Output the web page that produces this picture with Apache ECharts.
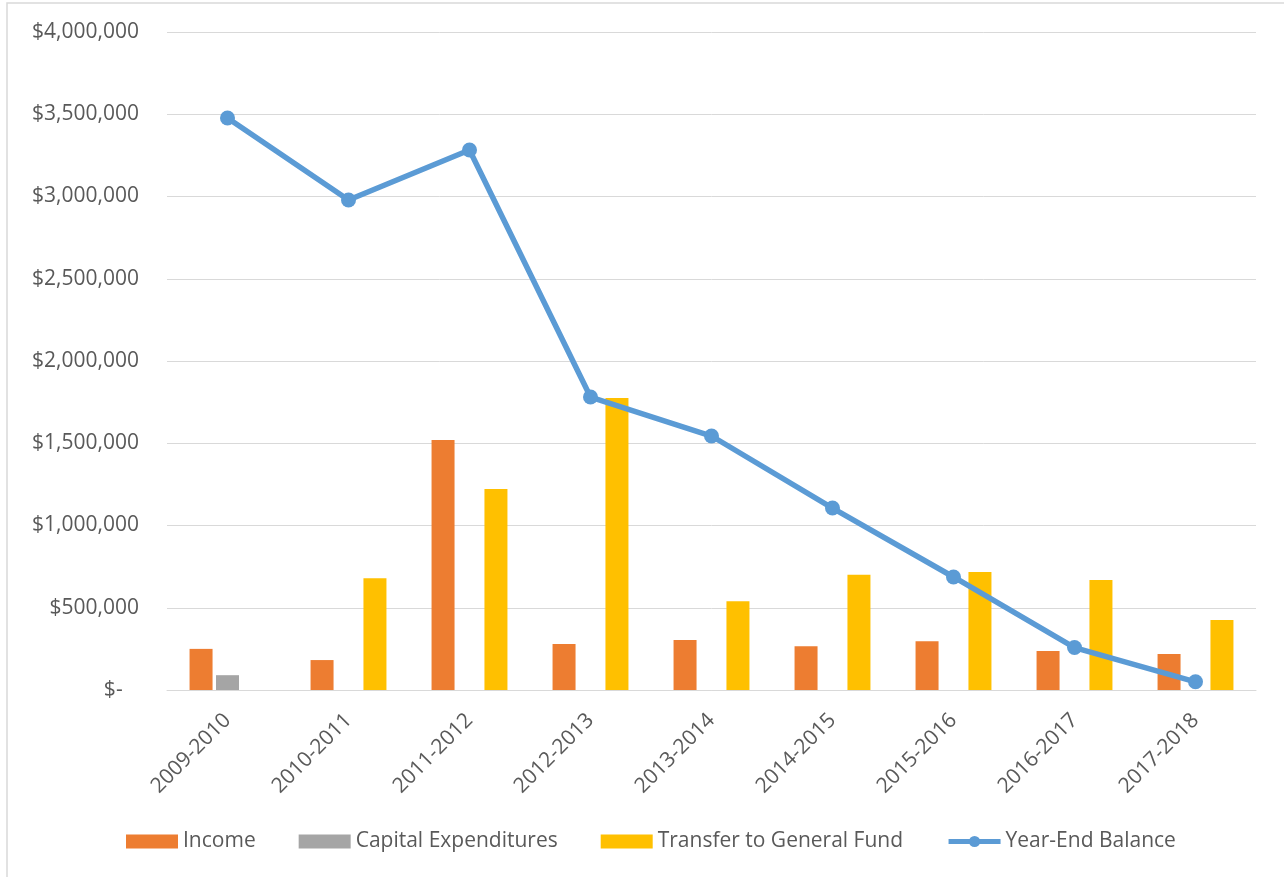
<!DOCTYPE html>
<html>
<head>
<meta charset="utf-8">
<script src="https://cdn.jsdelivr.net/npm/echarts@6/dist/echarts.min.js"></script>
<style>html,body{margin:0;padding:0;background:#fff;}#c{width:1284px;height:877px;}</style>
</head>
<body>
<div id="c"></div>
<script>
const categories = ['2009-2010','2010-2011','2011-2012','2012-2013','2013-2014','2014-2015','2015-2016','2016-2017','2017-2018'];
const income = [250000, 182000, 1520000, 280000, 304000, 266000, 296000, 237000, 219000];
const capitalExpenditures = [90000, null, null, null, null, null, null, null, null];
const transferToGeneralFund = [null, 680000, 1222000, 1775000, 539000, 700000, 717000, 669000, 426000];
const yearEndBalance = [3477000, 2979000, 3283000, 1781000, 1544000, 1106000, 687000, 258000, 50000];

const FONT = 'Open Sans';
const TXT = '#595959';
const FS = 21;
const chart = echarts.init(document.getElementById('c'));
chart.setOption({
  animation: false,
  backgroundColor: '#fff',
  graphic: [{
    type: 'rect', shape: {x: 7, y: 3, width: 1300, height: 900},
    style: {fill: 'none', stroke: '#D9D9D9', lineWidth: 1.5}, silent: true
  }],
  grid: {left: 167, right: 28, top: 32, bottom: 187, containLabel: false},
  legend: {
    left: 121, top: 826,
    itemWidth: 52, itemHeight: 14, itemGap: 43,
    textStyle: {color: TXT, fontFamily: FONT, fontSize: FS},
    data: [
      {name: 'Income', icon: 'rect'},
      {name: 'Capital Expenditures', icon: 'rect'},
      {name: 'Transfer to General Fund', icon: 'rect'},
      {name: 'Year-End Balance', lineStyle: {width: 5}}
    ]
  },
  xAxis: {
    type: 'category', data: categories,
    axisLine: {lineStyle: {color: '#D9D9D9', width: 1}},
    axisTick: {show: false},
    axisLabel: {rotate: 45, margin: 27, color: TXT, fontFamily: FONT, fontSize: FS, interval: 0}
  },
  yAxis: {
    type: 'value', min: 0, max: 4000000, interval: 500000,
    axisLine: {show: false}, axisTick: {show: false},
    splitLine: {lineStyle: {color: '#D9D9D9', width: 1}},
    axisLabel: {
      margin: 28, color: TXT, fontFamily: FONT, fontSize: FS,
      formatter: v => v === 0 ? '$-   ' : '$' + v.toLocaleString('en-US')
    }
  },
  series: [
    {name: 'Income', type: 'bar', data: income, barWidth: 23, barGap: '15%', itemStyle: {color: '#ED7D31'}},
    {name: 'Capital Expenditures', type: 'bar', data: capitalExpenditures, barWidth: 23, barGap: '15%', itemStyle: {color: '#A5A5A5'}},
    {name: 'Transfer to General Fund', type: 'bar', data: transferToGeneralFund, barWidth: 23, barGap: '15%', itemStyle: {color: '#FFC000'}},
    {name: 'Year-End Balance', type: 'line', data: yearEndBalance, z: 5,
     symbol: 'circle', symbolSize: 15,
     lineStyle: {color: '#5B9BD5', width: 5.5},
     itemStyle: {color: '#5B9BD5'}}
  ]
});
</script>
</body>
</html>
